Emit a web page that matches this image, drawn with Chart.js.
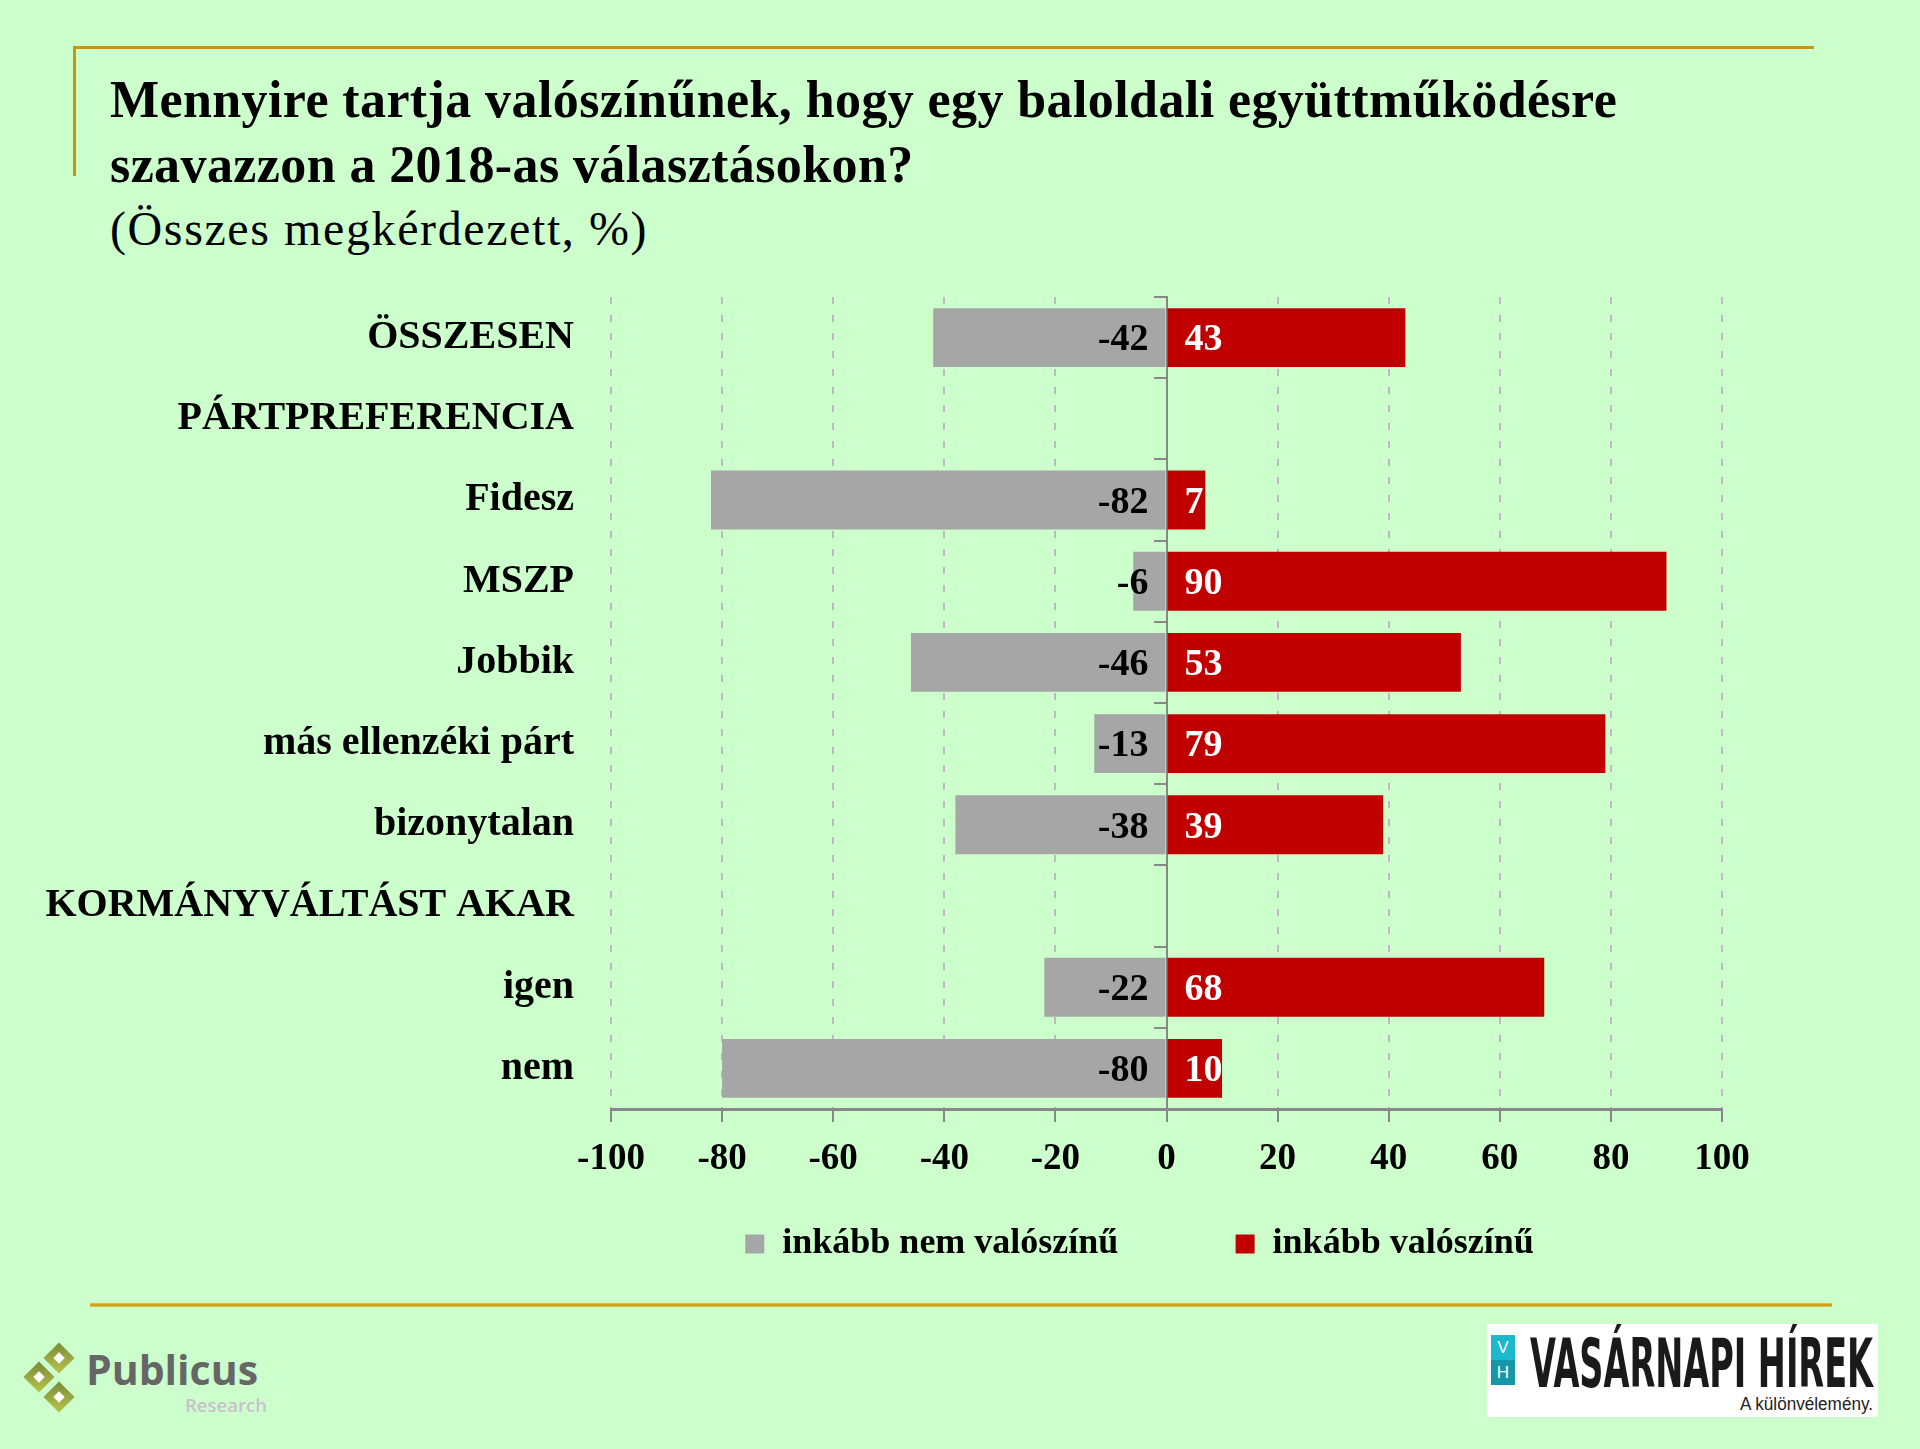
<!DOCTYPE html>
<html lang="hu">
<head>
<meta charset="utf-8">
<title>Baloldali együttműködés 2018</title>
<script src="https://cdn.jsdelivr.net/npm/chart.js@4.4.1/dist/chart.umd.min.js"></script>
<style>
  html, body { margin: 0; padding: 0; }
  body { width: 1920px; height: 1449px; background: #ccffcc; position: relative; overflow: hidden;
         font-family: 'Liberation Serif', 'Times New Roman', serif; color: #000; }
  .rule { position: absolute; background: #c9980a; }
  #title { position: absolute; left: 110px; top: 67px; font-weight: bold; font-size: 52px; line-height: 65px; letter-spacing: 0.4px; white-space: nowrap; }
  #subtitle { position: absolute; left: 110px; top: 206px; font-size: 48px; line-height: 46px; letter-spacing: 1.6px; white-space: nowrap; }
  #chart { position: absolute; left: 0; top: 250px; }
  .dia { position: absolute; width: 22px; height: 22px; transform: rotate(45deg);
         background: linear-gradient(135deg, #7a8a38, #b8c44c); }
  .dia::after { content: ''; position: absolute; left: 7px; top: 7px; width: 8px; height: 8px; background: #fff; }
  .fit { position: absolute; white-space: nowrap; transform-origin: left top; }
  #pub { left: 86px; top: 1348px; font-family: 'Open Sans', sans-serif; font-weight: bold; font-size: 42px; line-height: 42px; color: #666; }
  #res { left: 185px; top: 1396px; font-family: 'Open Sans', sans-serif; font-weight: 600; font-size: 18px; line-height: 18px; color: #c9c0cd; }
  #vhbox { position: absolute; left: 1487px; top: 1324px; width: 391px; height: 93px; background: #fff; }
  .strip { position: absolute; left: 1491px; width: 24px; height: 25px; color: #fff; text-align: center;
           font-family: 'Liberation Sans', sans-serif; font-size: 17px; line-height: 25px; }
  #vh { left: 1530px; top: 1330px; font-family: 'DejaVu Sans Condensed', 'DejaVu Sans', sans-serif; font-weight: bold; font-size: 68px; line-height: 68px; color: #1a1a1a; }
  #kv { left: 1740px; top: 1395px; font-family: 'Liberation Sans Narrow', 'Liberation Sans', sans-serif; font-size: 18px; line-height: 18px; color: #222; }
</style>
</head>
<body>
<div class="rule" style="left:74px;top:46px;width:1740px;height:3px;"></div>
<div class="rule" style="left:73px;top:46px;width:3px;height:130px;"></div>
<div id="title">Mennyire tartja valószínűnek, hogy egy baloldali együttműködésre<br>szavazzon a 2018-as választásokon?</div>
<div id="subtitle">(Összes megkérdezett, %)</div>

<canvas id="chart" width="1780" height="1022"></canvas>

<div class="rule" style="left:90px;top:1303px;width:1742px;height:4px;background:linear-gradient(#e2c866,#c89600,#e2c866);"></div>

<div class="dia" style="left:48px;top:1347px;"></div>
<div class="dia" style="left:28px;top:1366px;"></div>
<div class="dia" style="left:48px;top:1386px;"></div>
<div id="pub" class="fit" data-w="172">Publicus</div>
<div id="res" class="fit" data-w="82">Research</div>

<div id="vhbox"></div>
<div class="strip" style="top:1335px;background:#1bb9cd;">V</div>
<div class="strip" style="top:1360px;background:#1597a9;">H</div>
<div id="vh" class="fit" data-w="343">VASÁRNAPI HÍREK</div>
<div id="kv" class="fit" data-w="133">A különvélemény.</div>

<script>
const categories = ['ÖSSZESEN', 'PÁRTPREFERENCIA', 'Fidesz', 'MSZP', 'Jobbik',
  'más ellenzéki párt', 'bizonytalan', 'KORMÁNYVÁLTÁST AKAR', 'igen', 'nem'];
const notLikely = [-42, null, -82, -6, -46, -13, -38, null, -22, -80];
const likely = [43, null, 7, 90, 53, 79, 39, null, 68, 10];
const seriesNames = ['inkább nem valószínű', 'inkább valószínű'];
const xMin = -100;
const xMax = 100;
const xStep = 20;

const serif = "'Liberation Serif', 'Times New Roman', serif";
// extra room after each legend entry so the two entries sit where they do in the original
const legendGaps = ['\u2003\u2003\u2009', '\u2003\u2002'];

// value labels next to the zero line: grey values left of it, red values right of it
const valueLabels = {
  id: 'valueLabels',
  afterDatasetsDraw(chart) {
    const ctx = chart.ctx;
    ctx.save();
    ctx.font = 'bold 38px ' + serif;
    ctx.textBaseline = 'middle';
    chart.data.datasets.forEach((ds, i) => {
      chart.getDatasetMeta(i).data.forEach((bar, j) => {
        const v = ds.data[j];
        if (v === null) return;
        if (v < 0) {
          ctx.fillStyle = '#000';
          ctx.textAlign = 'right';
          ctx.fillText(String(v), bar.base - 17, bar.y + 3);
        } else {
          ctx.fillStyle = '#fff';
          ctx.textAlign = 'left';
          ctx.fillText(String(v), bar.base + 17, bar.y + 3);
        }
      });
    });
    ctx.restore();
  }
};

new Chart(document.getElementById('chart'), {
  type: 'bar',
  data: {
    labels: categories,
    datasets: [
      { label: seriesNames[0], data: notLikely, backgroundColor: '#a6a6a6', yAxisID: 'y' },
      { label: seriesNames[1], data: likely, backgroundColor: '#c00000', yAxisID: 'y' }
    ]
  },
  options: {
    indexAxis: 'y',
    responsive: false,
    animation: false,
    devicePixelRatio: 1,
    layout: { padding: { left: 0, right: 58, top: 47, bottom: 0 } },
    datasets: { bar: { categoryPercentage: 1, barPercentage: 0.725 } },
    scales: {
      x: {
        type: 'linear', min: xMin, max: xMax, stacked: true, position: 'bottom',
        ticks: { stepSize: xStep, color: '#000', padding: 15, font: { family: serif, size: 37, weight: 'bold' } },
        grid: { color: '#bfb7c3', lineWidth: 2, tickLength: 13, tickColor: '#888', tickWidth: 2 },
        border: { color: '#888', width: 3, dash: [7, 11] },
        afterFit: (s) => { s.height = 79; }
      },
      y: {
        type: 'category', stacked: true, position: 'left', offset: true,
        grid: { display: false },
        border: { display: false },
        ticks: { color: '#000', padding: 29, font: { family: serif, size: 40, weight: 'bold' } },
        afterFit: (s) => { s.width = 611; s.paddingTop = 0; s.paddingBottom = 0; }
      },
      zero: {
        type: 'category', axis: 'y', position: { x: 0 }, offset: true, z: 1,
        grid: { offset: true, drawOnChartArea: false, color: '#888', lineWidth: 2, tickLength: 12 },
        border: { color: '#888', width: 2 },
        ticks: { display: false }
      }
    },
    plugins: {
      legend: {
        position: 'bottom',
        fullSize: false,
        labels: {
          color: '#000', boxWidth: 19, boxHeight: 19, padding: 38,
          font: { family: serif, size: 36, weight: 'bold' },
          generateLabels: (chart) => Chart.defaults.plugins.legend.labels.generateLabels(chart)
            .map((item, i) => Object.assign(item, { text: item.text + legendGaps[i] }))
        }
      },
      tooltip: { enabled: false }
    }
  },
  plugins: [valueLabels]
});

// squeeze the logo texts to the widths they have in the original
document.querySelectorAll('.fit').forEach((el) => {
  const w = el.getBoundingClientRect().width;
  el.style.transform = 'scaleX(' + (Number(el.dataset.w) / w) + ')';
});
</script>
</body>
</html>
